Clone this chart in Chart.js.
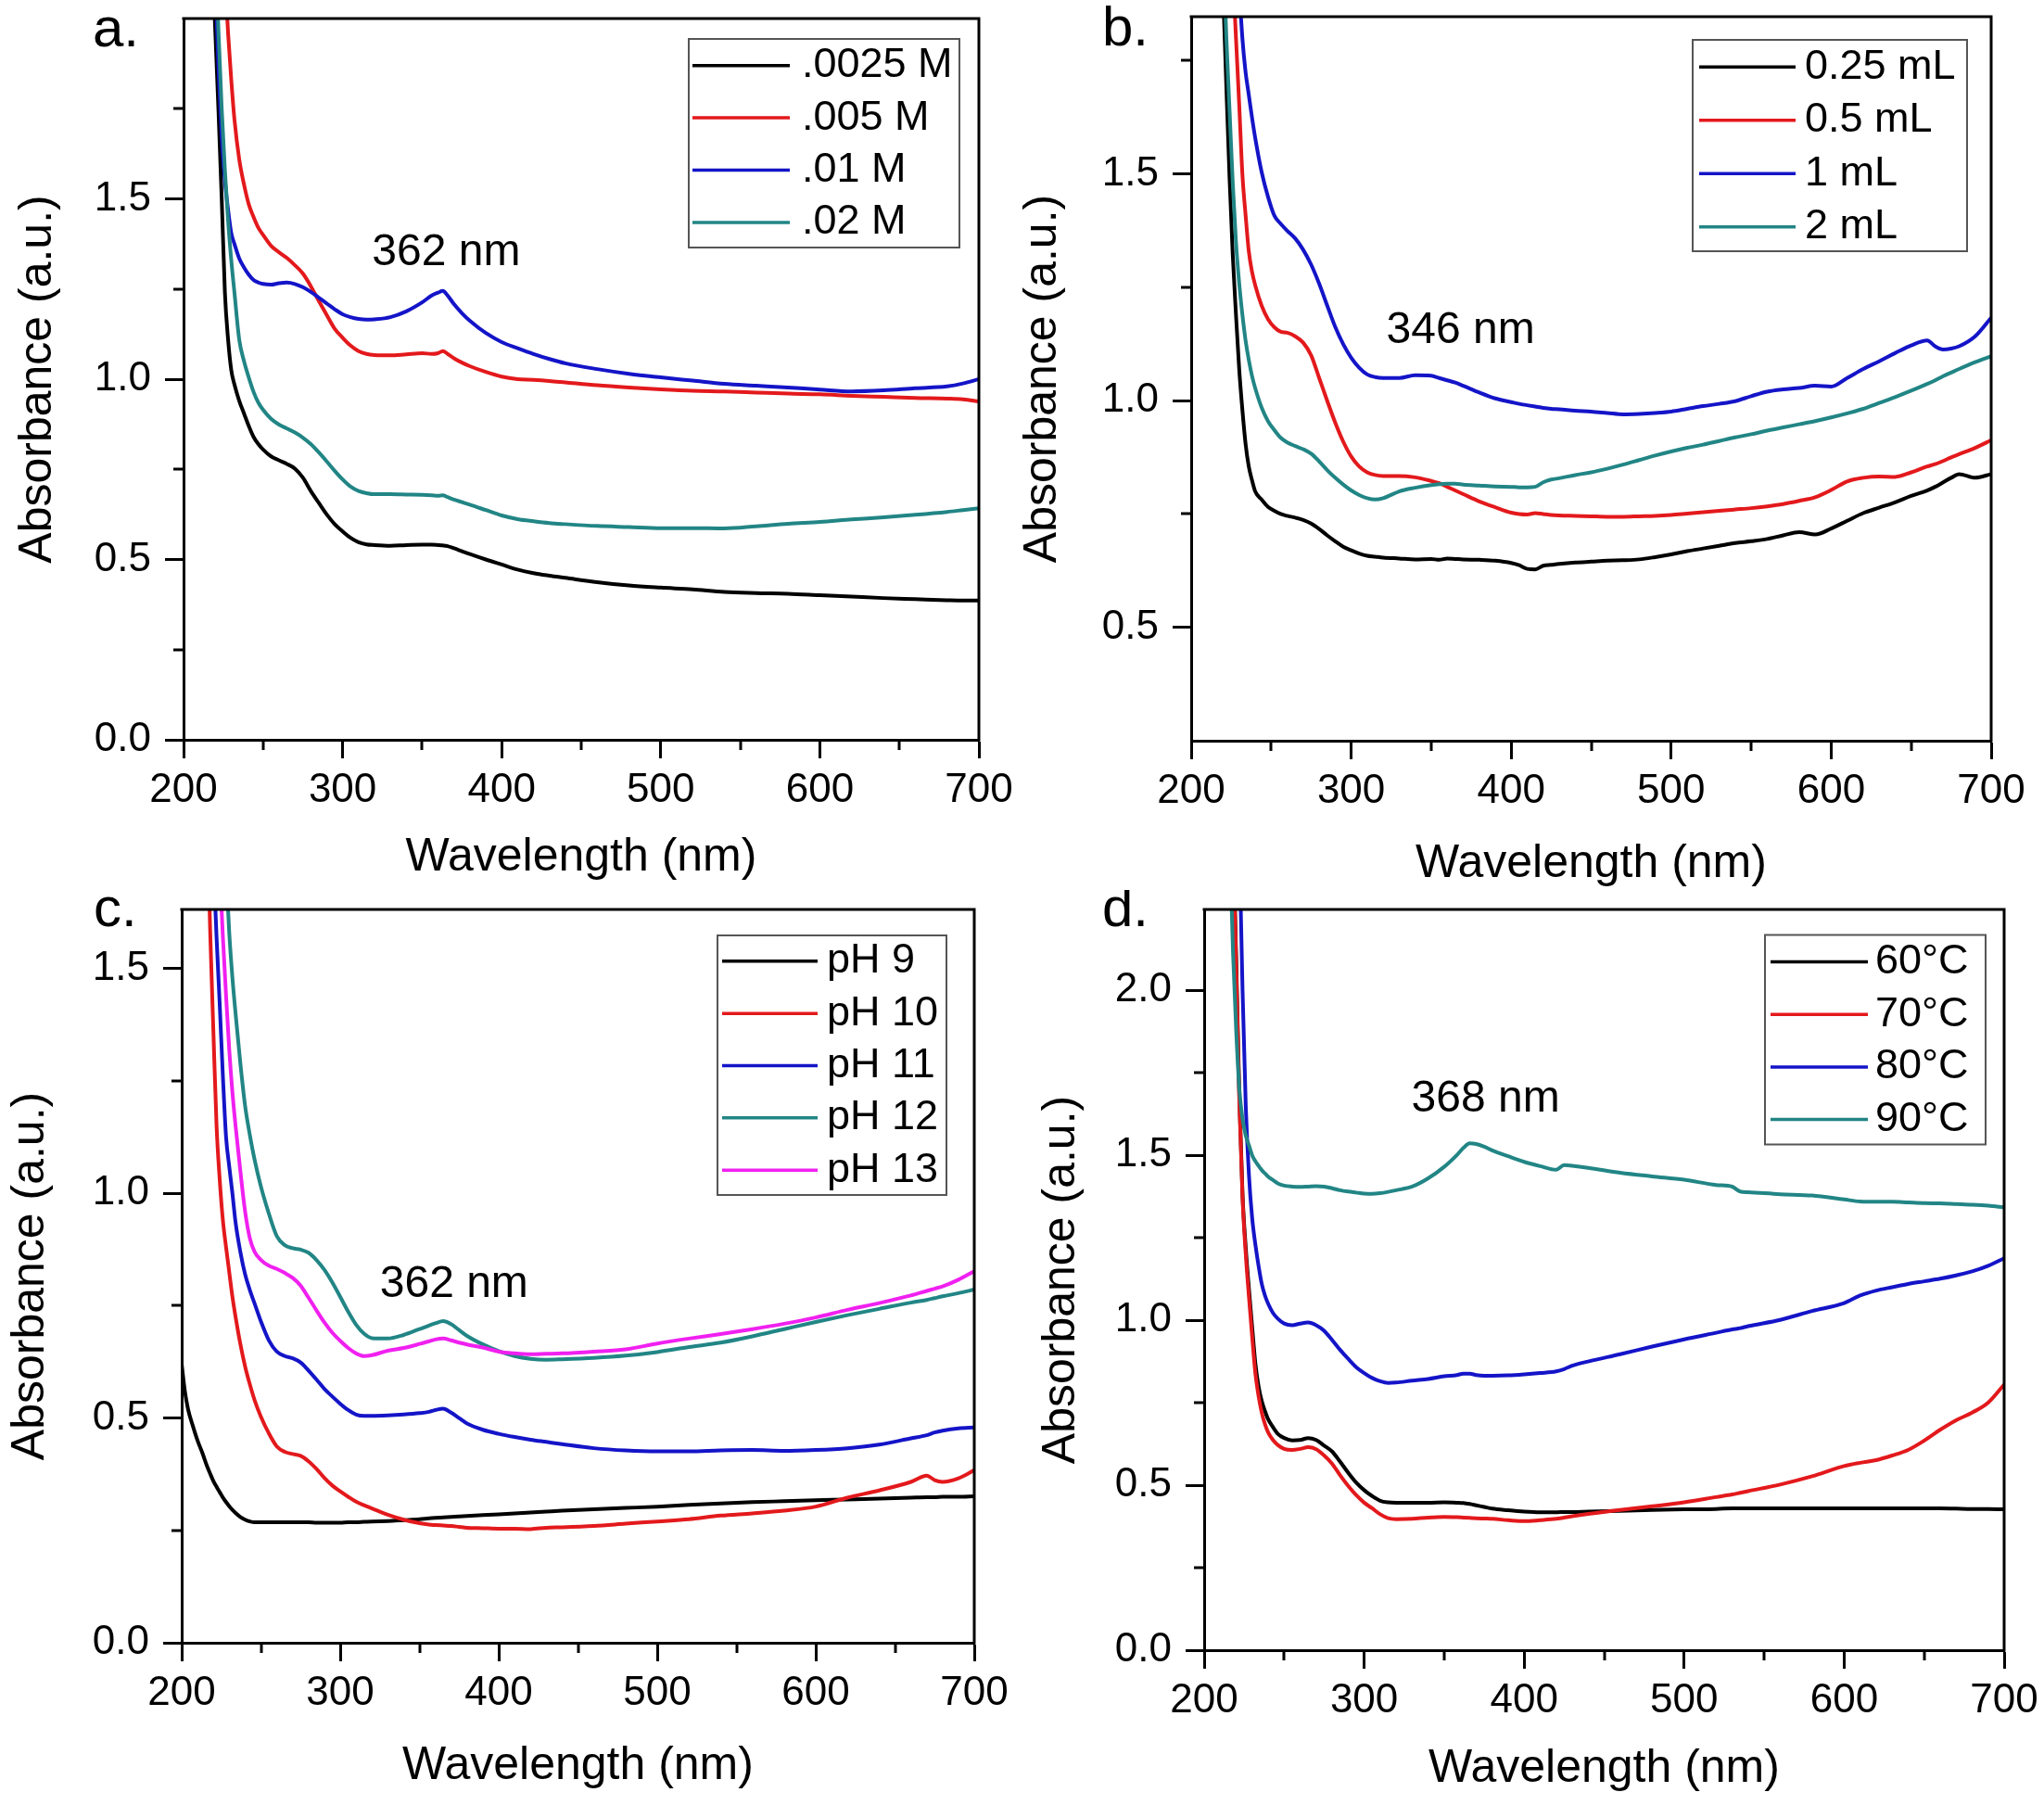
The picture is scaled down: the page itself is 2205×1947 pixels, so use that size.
<!DOCTYPE html>
<html><head><meta charset="utf-8">
<script src="https://cdn.jsdelivr.net/npm/chart.js@4/dist/chart.umd.min.js"></script>
<style>
html,body{margin:0;padding:0;background:#fff;}
#wrap{position:relative;width:2205px;height:1947px;background:#fff;overflow:hidden;}
.pc{position:absolute;}
canvas{display:block;}
</style></head><body>
<div id="wrap">
<div class="pc" style="left:0;top:0"><canvas id="cA" width="1100" height="960"></canvas></div>
<div class="pc" style="left:1100px;top:0"><canvas id="cB" width="1105" height="960"></canvas></div>
<div class="pc" style="left:0;top:960px"><canvas id="cC" width="1100" height="987"></canvas></div>
<div class="pc" style="left:1100px;top:960px"><canvas id="cD" width="1105" height="987"></canvas></div>
</div>
<script>
// ---------- shared ticks ----------
const X_TICKS = [200, 300, 400, 500, 600, 700];
const X_MINOR = [250, 350, 450, 550, 650];

// ---------- panel a ----------
const WL_A = [216,218,220,222,224,226,228,230,232,235,
  238,241,244,247,250,255,260,265,270,275,
  280,285,290,295,300,305,310,315,320,330,
  340,350,356,360,363,366,370,375,380,390,
  400,410,420,430,440,460,480,500,520,540,
  560,580,600,620,640,660,680,690,700];
const A_LABELS = ['.0025 M', '.005 M', '.01 M', '.02 M'];
const A_0025 = [2.40,2.18,1.96,1.74,1.50,1.24,1.11,1.025,0.985,0.94,
  0.905,0.87,0.84,0.82,0.805,0.786,0.775,0.765,0.752,0.727,
  0.69,0.657,0.625,0.598,0.578,0.56,0.548,0.542,0.54,0.538,
  0.54,0.541,0.541,0.54,0.539,0.537,0.531,0.523,0.515,0.50,
  0.486,0.472,0.462,0.455,0.449,0.437,0.428,0.422,0.417,0.41,
  0.407,0.405,0.401,0.397,0.393,0.39,0.387,0.386,0.386];
const A_005 = [3.2,3.0,2.75,2.5,2.3,2.12,1.96,1.83,1.72,1.61,
  1.54,1.485,1.45,1.42,1.40,1.37,1.352,1.336,1.316,1.293,
  1.258,1.217,1.178,1.14,1.115,1.093,1.078,1.07,1.067,1.066,
  1.069,1.072,1.07,1.072,1.078,1.07,1.058,1.046,1.036,1.02,
  1.007,1.0,0.998,0.995,0.991,0.983,0.977,0.972,0.968,0.966,
  0.963,0.96,0.958,0.954,0.951,0.948,0.946,0.944,0.938];
const A_01 = [2.7,2.45,2.1,1.86,1.67,1.55,1.47,1.405,1.375,1.335,
  1.31,1.29,1.275,1.268,1.264,1.262,1.266,1.268,1.264,1.255,
  1.242,1.226,1.21,1.194,1.18,1.172,1.167,1.165,1.166,1.172,
  1.188,1.213,1.232,1.24,1.245,1.232,1.208,1.183,1.162,1.128,
  1.103,1.086,1.07,1.056,1.044,1.028,1.015,1.005,0.996,0.987,
  0.982,0.977,0.971,0.966,0.969,0.975,0.98,0.988,1.0];
const A_02 = [2.7,2.45,2.2,1.96,1.75,1.58,1.44,1.33,1.24,1.11,
  1.05,1.005,0.965,0.935,0.915,0.89,0.874,0.863,0.852,0.838,
  0.82,0.797,0.772,0.746,0.722,0.702,0.69,0.684,0.681,0.681,
  0.68,0.679,0.678,0.677,0.678,0.673,0.666,0.659,0.652,0.637,
  0.622,0.612,0.606,0.601,0.598,0.593,0.59,0.587,0.587,0.586,
  0.592,0.599,0.604,0.611,0.617,0.624,0.632,0.637,0.642];
const A_YTICKS = [0, 0.5, 1.0, 1.5];
const A_YMINOR = [0.25, 0.75, 1.25, 1.75];

// ---------- panel b ----------
const WL_B = [216,218,220,222,224,226,228,230,232,234,
  236,238,240,244,248,252,256,260,265,270,
  275,280,285,290,295,300,305,310,315,320,
  330,340,350,355,360,365,370,380,390,400,
  405,410,415,420,425,430,440,450,460,470,
  480,490,500,510,520,530,540,550,560,570,
  580,590,600,610,620,630,640,650,660,665,
  670,675,680,690,700];
const B_LABELS = ['0.25 mL', '0.5 mL', '1 mL', '2 mL'];
const B_025 = [2.35,2.12,1.90,1.69,1.49,1.32,1.19,1.07,0.98,0.905,
  0.855,0.825,0.80,0.782,0.766,0.757,0.75,0.746,0.742,0.737,
  0.729,0.717,0.703,0.69,0.678,0.67,0.663,0.658,0.656,0.654,
  0.652,0.65,0.651,0.649,0.652,0.651,0.65,0.649,0.647,0.642,
  0.637,0.629,0.628,0.636,0.638,0.64,0.643,0.645,0.647,0.648,
  0.65,0.655,0.661,0.668,0.674,0.68,0.686,0.69,0.695,0.703,
  0.71,0.705,0.718,0.735,0.752,0.764,0.776,0.79,0.802,0.81,
  0.82,0.83,0.838,0.83,0.838];
const B_05 = [3.0,2.75,2.5,2.3,2.12,1.95,1.80,1.655,1.50,1.41,
  1.33,1.285,1.255,1.21,1.18,1.162,1.152,1.15,1.142,1.128,
  1.10,1.05,1.0,0.952,0.91,0.877,0.855,0.842,0.836,0.834,
  0.834,0.831,0.823,0.818,0.81,0.802,0.794,0.778,0.765,0.753,
  0.75,0.749,0.752,0.75,0.748,0.747,0.746,0.745,0.744,0.744,
  0.745,0.746,0.748,0.751,0.754,0.757,0.76,0.763,0.767,0.772,
  0.779,0.787,0.803,0.822,0.83,0.833,0.832,0.842,0.855,0.86,
  0.867,0.875,0.882,0.896,0.913];
const B_1 = [3.3,3.1,2.9,2.7,2.5,2.3,2.1,1.92,1.80,1.725,
  1.675,1.625,1.58,1.505,1.45,1.408,1.39,1.375,1.358,1.333,
  1.30,1.258,1.21,1.163,1.125,1.095,1.073,1.058,1.052,1.05,
  1.05,1.056,1.055,1.05,1.045,1.04,1.033,1.018,1.005,0.997,
  0.993,0.99,0.987,0.984,0.982,0.981,0.978,0.976,0.973,0.97,
  0.971,0.973,0.976,0.982,0.988,0.993,0.999,1.01,1.02,1.025,
  1.028,1.033,1.031,1.05,1.07,1.087,1.105,1.122,1.133,1.12,
  1.113,1.115,1.12,1.142,1.183];
const B_2 = [2.5,2.25,2.0,1.80,1.64,1.48,1.35,1.26,1.19,1.133,
  1.09,1.055,1.028,0.985,0.955,0.935,0.918,0.908,0.9,0.893,
  0.883,0.866,0.847,0.83,0.815,0.802,0.792,0.785,0.782,0.785,
  0.80,0.808,0.814,0.816,0.817,0.817,0.815,0.813,0.811,0.81,
  0.809,0.809,0.81,0.82,0.826,0.829,0.836,0.842,0.85,0.859,
  0.869,0.879,0.888,0.896,0.903,0.911,0.919,0.926,0.934,0.941,
  0.948,0.955,0.963,0.972,0.982,0.995,1.008,1.022,1.037,1.045,
  1.054,1.062,1.07,1.085,1.098];
const B_YTICKS = [0.5, 1.0, 1.5];
const B_YMINOR = [0.75, 1.25, 1.75];

// ---------- panel c ----------
const WL_C = [200,202,204,207,210,213,216,218,220,222,
  224,226,228,230,232,234,237,240,243,246,
  250,255,260,265,270,275,280,285,290,295,
  300,305,310,315,320,330,340,350,356,360,
  365,370,375,380,390,400,410,420,430,440,
  460,480,500,520,540,560,580,600,620,640,
  660,670,675,680,690,700];
const C_LABELS = ['pH 9', 'pH 10', 'pH 11', 'pH 12', 'pH 13'];
const C_PH9 = [0.62,0.56,0.52,0.483,0.45,0.423,0.393,0.376,0.36,0.347,
  0.335,0.323,0.313,0.304,0.296,0.289,0.28,0.274,0.27,0.268,
  0.268,0.268,0.268,0.268,0.268,0.268,0.268,0.267,0.267,0.267,
  0.267,0.268,0.268,0.269,0.27,0.271,0.273,0.275,0.277,0.278,
  0.279,0.28,0.281,0.282,0.284,0.286,0.288,0.29,0.292,0.294,
  0.297,0.3,0.303,0.307,0.31,0.313,0.315,0.317,0.319,0.321,
  0.323,0.324,0.324,0.325,0.325,0.326];
const C_PH10 = [null,null,null,null,null,null,1.85,1.58,1.36,1.15,
  1.03,0.94,0.88,0.825,0.77,0.725,0.665,0.615,0.575,0.54,
  0.503,0.466,0.437,0.425,0.42,0.416,0.404,0.387,0.367,0.35,
  0.337,0.325,0.314,0.306,0.299,0.285,0.274,0.266,0.263,0.262,
  0.261,0.26,0.258,0.256,0.255,0.254,0.254,0.253,0.256,0.257,
  0.26,0.265,0.27,0.275,0.283,0.288,0.294,0.303,0.323,0.339,
  0.358,0.372,0.362,0.358,0.366,0.384];
const C_PH11 = [null,null,null,null,null,null,null,1.95,1.74,1.57,
  1.42,1.26,1.125,1.06,1.0,0.935,0.87,0.82,0.785,0.755,
  0.715,0.673,0.648,0.638,0.633,0.624,0.606,0.586,0.565,0.548,
  0.532,0.518,0.508,0.505,0.505,0.506,0.508,0.511,0.514,0.518,
  0.521,0.512,0.5,0.488,0.474,0.465,0.458,0.452,0.447,0.442,
  0.433,0.428,0.426,0.426,0.428,0.429,0.427,0.429,0.433,0.441,
  0.455,0.462,0.468,0.472,0.477,0.479];
const C_PH12 = [null,null,null,null,null,null,null,null,null,null,
  2.2,1.9,1.72,1.58,1.48,1.40,1.29,1.195,1.13,1.075,
  1.015,0.955,0.905,0.885,0.878,0.875,0.868,0.852,0.83,0.802,
  0.77,0.737,0.708,0.688,0.678,0.677,0.685,0.698,0.706,0.711,
  0.716,0.709,0.696,0.683,0.664,0.649,0.638,0.632,0.63,0.631,
  0.634,0.639,0.647,0.658,0.668,0.682,0.698,0.714,0.729,0.743,
  0.757,0.763,0.767,0.771,0.778,0.786];
const C_PH13 = [null,null,null,null,null,null,null,null,null,1.9,
  1.72,1.57,1.44,1.32,1.225,1.15,1.05,0.96,0.90,0.87,
  0.852,0.839,0.832,0.823,0.812,0.795,0.768,0.74,0.713,0.69,
  0.672,0.656,0.644,0.638,0.64,0.65,0.656,0.665,0.671,0.675,
  0.677,0.673,0.668,0.664,0.657,0.648,0.644,0.642,0.643,0.644,
  0.648,0.653,0.666,0.677,0.687,0.698,0.71,0.724,0.741,0.756,
  0.773,0.783,0.788,0.793,0.808,0.827];
const C_YTICKS = [0, 0.5, 1.0, 1.5];
const C_YMINOR = [0.25, 0.75, 1.25];

// ---------- panel d ----------
const WL_D = [214,216,218,220,222,224,226,228,230,232,
  234,236,238,240,243,246,250,255,260,265,
  270,275,280,285,290,295,300,305,310,315,
  320,330,340,350,358,362,366,370,375,380,
  390,400,410,420,425,430,440,460,480,500,
  520,530,535,540,560,580,600,610,620,630,
  640,650,660,670,680,690,700];
const D_LABELS = ['60°C', '70°C', '80°C', '90°C'];
const D_60 = [3.5,3.0,2.5,2.1,1.68,1.38,1.22,1.095,0.98,0.87,
  0.80,0.755,0.725,0.70,0.676,0.656,0.643,0.636,0.637,0.643,
  0.637,0.62,0.602,0.571,0.538,0.508,0.485,0.467,0.453,0.448,
  0.447,0.447,0.447,0.448,0.447,0.446,0.443,0.439,0.434,0.429,
  0.424,0.42,0.418,0.418,0.419,0.419,0.42,0.422,0.425,0.427,
  0.428,0.43,0.43,0.43,0.43,0.43,0.43,0.43,0.43,0.43,
  0.43,0.43,0.43,0.429,0.428,0.428,0.427];
const D_70 = [3.5,3.0,2.5,2.08,1.66,1.37,1.2,1.07,0.95,0.84,
  0.77,0.72,0.685,0.66,0.637,0.622,0.61,0.607,0.61,0.615,
  0.609,0.59,0.565,0.53,0.498,0.47,0.447,0.43,0.412,0.40,
  0.397,0.398,0.402,0.404,0.403,0.402,0.401,0.40,0.399,0.398,
  0.394,0.391,0.394,0.398,0.402,0.406,0.413,0.425,0.436,0.448,
  0.464,0.472,0.477,0.482,0.502,0.527,0.558,0.568,0.576,0.59,
  0.607,0.635,0.668,0.697,0.72,0.75,0.805];
const D_80 = [null,null,null,2.9,2.45,2.0,1.65,1.44,1.31,1.23,
  1.165,1.11,1.075,1.05,1.022,1.005,0.99,0.985,0.99,0.993,
  0.985,0.968,0.94,0.91,0.883,0.858,0.84,0.825,0.815,0.81,
  0.811,0.817,0.822,0.83,0.834,0.838,0.838,0.834,0.832,0.832,
  0.833,0.836,0.84,0.845,0.852,0.862,0.875,0.897,0.92,0.942,
  0.962,0.972,0.976,0.982,1.001,1.028,1.052,1.075,1.09,1.1,
  1.11,1.118,1.126,1.136,1.148,1.165,1.188];
const D_90 = [2.9,2.45,2.12,1.88,1.70,1.61,1.56,1.53,1.50,1.482,
  1.468,1.455,1.445,1.435,1.425,1.415,1.408,1.405,1.404,1.405,
  1.406,1.405,1.40,1.394,1.39,1.387,1.384,1.383,1.385,1.389,
  1.394,1.405,1.43,1.465,1.501,1.522,1.536,1.534,1.526,1.515,
  1.497,1.48,1.467,1.456,1.47,1.468,1.462,1.447,1.436,1.426,
  1.41,1.405,1.39,1.388,1.382,1.378,1.366,1.36,1.359,1.359,
  1.357,1.355,1.354,1.352,1.35,1.347,1.342];
const D_YTICKS = [0, 0.5, 1.0, 1.5, 2.0];
const D_YMINOR = [0.25, 0.75, 1.25, 1.75];

// ---------- styling ----------
const FONT = "'Liberation Sans', Arial, Helvetica, sans-serif";
const BLACK = '#000000', RED = '#e3191c', BLUE = '#1414c8', TEAL = '#228585', MAGENTA = '#f020f0';

function makeDeco(p) {
  return {
    id: 'deco',
    afterDraw(chart) {
      const ctx = chart.ctx, a = chart.chartArea, xs = chart.scales.x, ys = chart.scales.y;
      ctx.save();
      ctx.strokeStyle = '#000'; ctx.lineWidth = 3; ctx.lineCap = 'butt';
      ctx.beginPath();
      ctx.moveTo(a.left - 1.5, a.top); ctx.lineTo(a.right, a.top); ctx.lineTo(a.right, a.bottom + 1.5);
      ctx.stroke();
      ctx.beginPath();
      X_MINOR.forEach(v => { const px = Math.round(xs.getPixelForValue(v)); ctx.moveTo(px, a.bottom); ctx.lineTo(px, a.bottom + 11); });
      p.yMinor.forEach(v => { const py = Math.round(ys.getPixelForValue(v)); ctx.moveTo(a.left, py); ctx.lineTo(a.left - 11, py); });
      ctx.stroke();
      // legend
      const L = p.legend;
      ctx.lineWidth = 2; ctx.strokeStyle = '#555';
      ctx.strokeRect(L.x, L.y, L.w, L.h);
      ctx.font = '45px ' + FONT; ctx.textBaseline = 'middle'; ctx.textAlign = 'left';
      chart.data.datasets.forEach((d, i) => {
        const ry = L.y + L.first + i * L.step;
        ctx.strokeStyle = d.borderColor; ctx.lineWidth = 3.5;
        ctx.beginPath(); ctx.moveTo(L.lx1, ry); ctx.lineTo(L.lx2, ry); ctx.stroke();
        ctx.fillStyle = '#000'; ctx.fillText(d.label, L.tx, ry);
      });
      // peak annotation
      ctx.font = '48px ' + FONT; ctx.textBaseline = 'alphabetic'; ctx.fillStyle = '#000';
      ctx.fillText(p.note.text, xs.getPixelForValue(p.note.x), ys.getPixelForValue(p.note.y));
      // panel letter
      ctx.font = '60px ' + FONT;
      ctx.fillText(p.letter, p.letterX, p.letterY);
      ctx.restore();
    }
  };
}

function panel(id, p) {
  const n = p.series.length;
  const datasets = p.series.map((s, i) => ({
    label: s.label,
    data: p.wl.map((x, j) => ({ x: x, y: s.values[j] })),
    borderColor: s.color, backgroundColor: s.color,
    borderWidth: 4, pointRadius: 0, pointHoverRadius: 0, fill: false,
    cubicInterpolationMode: 'monotone', spanGaps: false,
    order: n - i
  }));
  const tickFont = { family: FONT, size: 44 };
  const grid = { display: true, drawOnChartArea: false, drawTicks: true, tickLength: 20, tickWidth: 3, tickColor: '#000' };
  const border = { display: true, color: '#000', width: 3 };
  new Chart(document.getElementById(id), {
    type: 'line',
    data: { datasets },
    options: {
      responsive: false, animation: false, devicePixelRatio: 1, events: [],
      layout: { padding: { left: 0, top: p.padTop, right: p.padRight, bottom: 0 } },
      plugins: { legend: { display: false }, tooltip: { enabled: false } },
      scales: {
        x: {
          type: 'linear', min: 200, max: 700,
          afterBuildTicks: s => { s.ticks = X_TICKS.map(v => ({ value: v })); },
          afterFit: s => { s.height = p.xAxisH; s.paddingLeft = 0; s.paddingRight = 0; },
          ticks: { font: tickFont, color: '#000', padding: 8, maxRotation: 0, autoSkip: false, callback: v => String(v) },
          grid, border,
          title: { display: true, text: 'Wavelength (nm)', color: '#000', font: { family: FONT, size: 50, lineHeight: 1 }, padding: { top: 0, bottom: p.xTitlePad } }
        },
        y: {
          type: 'linear', min: p.yMin, max: p.yMax,
          afterBuildTicks: s => { s.ticks = p.yTicks.map(v => ({ value: v })); },
          afterFit: s => { s.width = p.yAxisW; s.paddingTop = 0; s.paddingBottom = 0; },
          ticks: { font: tickFont, color: '#000', padding: 15, autoSkip: false, callback: v => Number(v).toFixed(1) },
          grid, border,
          title: { display: true, text: 'Absorbance (a.u.)', color: '#000', font: { family: FONT, size: 50, lineHeight: 1 }, padding: { top: p.yTitlePad, bottom: 0 } }
        }
      }
    },
    plugins: [makeDeco(p)]
  });
}

panel('cA', {
  wl: WL_A,
  series: [
    { label: A_LABELS[0], values: A_0025, color: BLACK },
    { label: A_LABELS[1], values: A_005, color: RED },
    { label: A_LABELS[2], values: A_01, color: BLUE },
    { label: A_LABELS[3], values: A_02, color: TEAL }
  ],
  yMin: 0, yMax: 2.0, yTicks: A_YTICKS, yMinor: A_YMINOR,
  yAxisW: 198, padTop: 20, padRight: 44, xAxisH: 162, xTitlePad: 10, yTitlePad: 16,
  legend: { x: 743, y: 42, w: 292, h: 225, first: 28.7, step: 56.4, lx1: 747, lx2: 852, tx: 865 },
  note: { text: '362 nm', x: 318.5, y: 1.317 },
  letter: 'a.', letterX: 100, letterY: 50
});
panel('cB', {
  wl: WL_B,
  series: [
    { label: B_LABELS[0], values: B_025, color: BLACK },
    { label: B_LABELS[1], values: B_05, color: RED },
    { label: B_LABELS[2], values: B_1, color: BLUE },
    { label: B_LABELS[3], values: B_2, color: TEAL }
  ],
  yMin: 0.25, yMax: 1.847, yTicks: B_YTICKS, yMinor: B_YMINOR,
  yAxisW: 185, padTop: 18, padRight: 57, xAxisH: 161, xTitlePad: 3, yTitlePad: 0,
  legend: { x: 726, y: 43, w: 296, h: 228, first: 29.3, step: 57.5, lx1: 733, lx2: 837, tx: 847 },
  note: { text: '346 nm', x: 322, y: 1.127 },
  letter: 'b.', letterX: 89, letterY: 49
});
panel('cC', {
  wl: WL_C,
  series: [
    { label: C_LABELS[0], values: C_PH9, color: BLACK },
    { label: C_LABELS[1], values: C_PH10, color: RED },
    { label: C_LABELS[2], values: C_PH11, color: BLUE },
    { label: C_LABELS[3], values: C_PH12, color: TEAL },
    { label: C_LABELS[4], values: C_PH13, color: MAGENTA }
  ],
  yMin: 0, yMax: 1.632, yTicks: C_YTICKS, yMinor: C_YMINOR,
  yAxisW: 196, padTop: 21, padRight: 49, xAxisH: 175, xTitlePad: 17, yTitlePad: 8,
  legend: { x: 774, y: 49, w: 247, h: 280, first: 27.8, step: 56.35, lx1: 779, lx2: 882, tx: 892 },
  note: { text: '362 nm', x: 325, y: 0.77 },
  letter: 'c.', letterX: 101, letterY: 39
});
panel('cD', {
  wl: WL_D,
  series: [
    { label: D_LABELS[0], values: D_60, color: BLACK },
    { label: D_LABELS[1], values: D_70, color: RED },
    { label: D_LABELS[2], values: D_80, color: BLUE },
    { label: D_LABELS[3], values: D_90, color: TEAL }
  ],
  yMin: 0, yMax: 2.245, yTicks: D_YTICKS, yMinor: D_YMINOR,
  yAxisW: 199, padTop: 21, padRight: 43, xAxisH: 167, xTitlePad: 14, yTitlePad: 20,
  legend: { x: 804, y: 48.5, w: 238, h: 226, first: 29, step: 56.7, lx1: 810, lx2: 915, tx: 923 },
  note: { text: '368 nm', x: 329.5, y: 1.632 },
  letter: 'd.', letterX: 89, letterY: 39
});
</script>
</body></html>
